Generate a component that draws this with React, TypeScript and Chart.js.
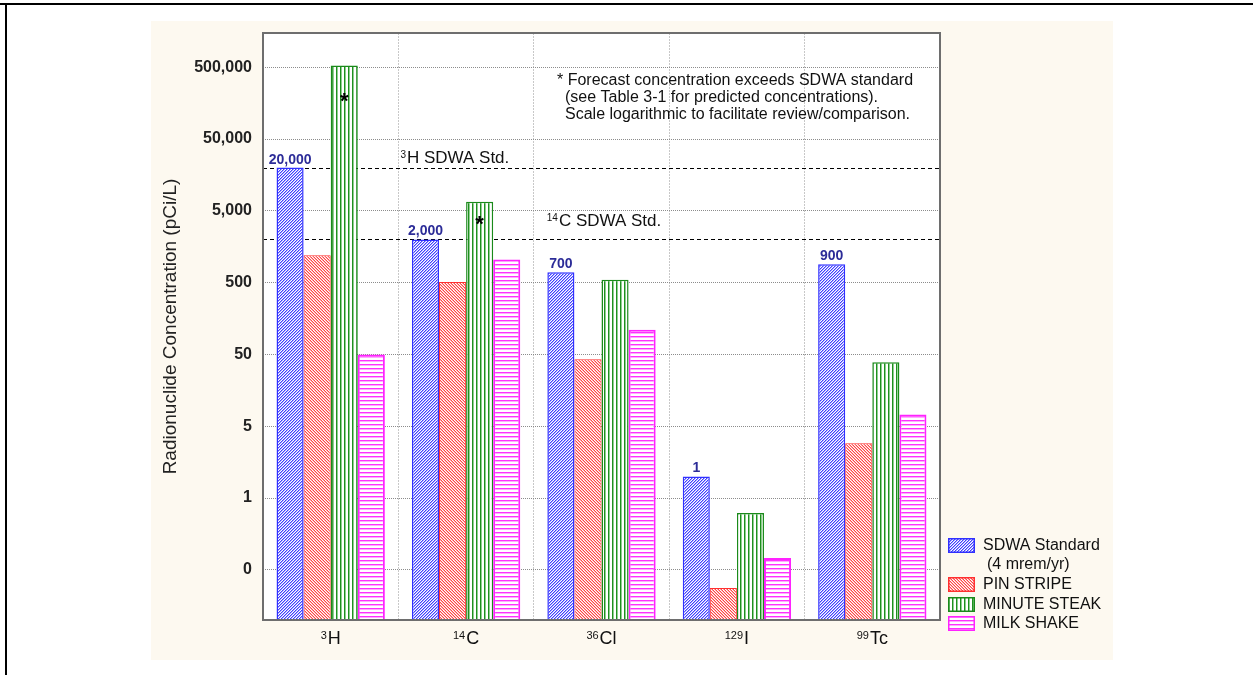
import React, { useEffect, useRef } from 'react';
import { Chart, registerables } from 'chart.js';

Chart.register(...registerables);

// ---------------- data ----------------
const categorySup = ['3', '14', '36', '129', '99'];
const categoryBase = ['H', 'C', 'Cl', 'I', 'Tc'];
const categories = categorySup.map((s, i) => s + categoryBase[i]);

const seriesNames = ['SDWA Standard', 'PIN STRIPE', 'MINUTE STEAK', 'MILK SHAKE'];
const sdwaStandard = [20000, 2000, 700, 1, 900];
const pinStripe = [1200, 510, 43, 0.028, 2.9];
const minuteSteak = [530000, 6700, 550, 0.31, 39];
const milkShake = [50, 1050, 110, 0.073, 7.3];
const sdwaLabels = ['20,000', '2,000', '700', '1', '900'];

const yTickValues = [0.05, 0.5, 5, 50, 500, 5000, 50000, 500000];
const yTickLabels = ['0', '1', '5', '50', '500', '5,000', '50,000', '500,000'];
const yMin = 0.01;
const yMax = 1500000;

const stdLineValues = [20000, 2000];
const stdLineSup = ['3', '14'];
const stdLineText = ['H SDWA Std.', 'C SDWA Std.'];

// asterisks on MINUTE STEAK bars for 3H and 14C
const asteriskValues = [185000, 3600];

const noteLines = [
  '* Forecast concentration exceeds SDWA standard',
  '(see Table 3-1 for predicted concentrations).',
  'Scale logarithmic to facilitate review/comparison.',
];

const FONT = '"Liberation Sans", Arial, sans-serif';

function makePattern(kind: string, color: string, soft: string): CanvasPattern {
  const size = kind === 'diagUp' || kind === 'diagDown' ? 3 : 4;
  const c = document.createElement('canvas');
  c.width = size;
  c.height = size;
  const g = c.getContext('2d')!;
  g.fillStyle = '#ffffff';
  g.fillRect(0, 0, size, size);
  for (let i = 0; i < size; i++) {
    if (kind === 'diagUp') {
      g.fillStyle = color;
      g.fillRect(i, size - 1 - i, 1, 1);
      g.fillStyle = soft;
      g.fillRect(i, (size - i) % size, 1, 1);
    } else if (kind === 'diagDown') {
      g.fillStyle = color;
      g.fillRect(i, i, 1, 1);
      g.fillStyle = soft;
      g.fillRect(i, (i + 1) % size, 1, 1);
    } else if (kind === 'vert') {
      g.fillStyle = color;
      g.fillRect(0, i, 1, 1);
      g.fillStyle = soft;
      g.fillRect(1, i, 1, 1);
    } else if (kind === 'horiz') {
      g.fillStyle = color;
      g.fillRect(i, 0, 1, 1);
      g.fillStyle = soft;
      g.fillRect(i, 1, 1, 1);
    }
  }
  return g.createPattern(c, 'repeat')!;
}

function drawSup(
  ctx: CanvasRenderingContext2D,
  x: number,
  baseline: number,
  sup: string,
  base: string,
  size: number,
  supSize: number,
  align: 'left' | 'center'
) {
  ctx.font = `${supSize}px ${FONT}`;
  const sw = ctx.measureText(sup).width;
  ctx.font = `${size}px ${FONT}`;
  const bw = ctx.measureText(base).width;
  const gap = 1;
  let sx = x;
  if (align === 'center') sx = x - (sw + gap + bw) / 2;
  ctx.textAlign = 'left';
  ctx.textBaseline = 'alphabetic';
  ctx.font = `${supSize}px ${FONT}`;
  ctx.fillText(sup, sx, baseline - size * 0.3);
  ctx.font = `${size}px ${FONT}`;
  ctx.fillText(base, sx + sw + gap, baseline);
}

export default function App() {
  const ref = useRef<HTMLCanvasElement>(null);

  useEffect(() => {
    const canvas = ref.current!;
    const fills = [
      makePattern('diagUp', '#4040ff', '#a8a8ff'),
      makePattern('diagDown', '#ff4545', '#ffaaaa'),
      makePattern('vert', '#1f8f1f', '#8fcf8f'),
      makePattern('horiz', '#ff30ff', '#ffaaff'),
    ];
    const borders = ['#3030ff', '#ff3030', '#1a8a1a', '#ff22ff'];
    const borderWidths = [1.5, 1, 1.5, 2];
    const seriesData = [sdwaStandard, pinStripe, minuteSteak, milkShake];

    const decor = {
      id: 'decor',
      beforeDraw(chart: any) {
        const { ctx, width, height, chartArea } = chart;
        ctx.save();
        ctx.fillStyle = '#ffffff';
        ctx.fillRect(0, 0, width, height);
        ctx.fillStyle = '#000000';
        ctx.fillRect(0, 3, width, 2);
        ctx.fillRect(5, 3, 2, height - 3);
        ctx.fillStyle = '#fdf9f0';
        ctx.fillRect(151, 21, 962, 639);
        ctx.fillStyle = '#ffffff';
        ctx.fillRect(chartArea.left, chartArea.top, chartArea.right - chartArea.left, chartArea.bottom - chartArea.top);
        ctx.restore();
      },
      beforeDatasetsDraw(chart: any) {
        const { ctx, chartArea } = chart;
        const y = chart.scales.y;
        ctx.save();
        ctx.strokeStyle = '#000000';
        ctx.lineWidth = 1;
        ctx.setLineDash([4, 3]);
        stdLineValues.forEach((v) => {
          const py = Math.round(y.getPixelForValue(v)) + 0.5;
          ctx.beginPath();
          ctx.moveTo(chartArea.left, py);
          ctx.lineTo(chartArea.right, py);
          ctx.stroke();
        });
        ctx.restore();
      },
      afterDatasetsDraw(chart: any) {
        const { ctx, chartArea } = chart;
        const y = chart.scales.y;
        const x = chart.scales.x;
        ctx.save();
        // plot border
        ctx.strokeStyle = '#6e6e6e';
        ctx.lineWidth = 2;
        ctx.strokeRect(chartArea.left, chartArea.top, chartArea.right - chartArea.left, chartArea.bottom - chartArea.top);

        // std line labels
        ctx.fillStyle = '#111111';
        const lx0 = x.getPixelForTick(0) + (x.getPixelForTick(1) - x.getPixelForTick(0)) / 2;
        const py0 = y.getPixelForValue(stdLineValues[0]);
        drawSup(ctx, lx0 + 2, py0 - 4.5, stdLineSup[0], stdLineText[0], 17, 10, 'left');
        const lx1 = x.getPixelForTick(1) + (x.getPixelForTick(2) - x.getPixelForTick(1)) / 2;
        const py1 = y.getPixelForValue(stdLineValues[1]);
        drawSup(ctx, lx1 + 13, py1 - 13, stdLineSup[1], stdLineText[1], 17, 10, 'left');

        // note text
        ctx.font = `16px ${FONT}`;
        ctx.textAlign = 'left';
        ctx.textBaseline = 'alphabetic';
        ctx.fillStyle = '#111111';
        ctx.fillText(noteLines[0], 557, 85);
        ctx.fillText(noteLines[1], 565, 102);
        ctx.fillText(noteLines[2], 565, 119);

        // value labels above SDWA bars
        const meta0 = chart.getDatasetMeta(0);
        ctx.font = `bold 14px ${FONT}`;
        ctx.fillStyle = '#2c2c98';
        ctx.textAlign = 'center';
        meta0.data.forEach((bar: any, i: number) => {
          ctx.fillText(sdwaLabels[i], bar.x, bar.y - 4);
        });

        // asterisks
        const meta2 = chart.getDatasetMeta(2);
        ctx.font = `bold 22px ${FONT}`;
        ctx.fillStyle = '#000000';
        ctx.textBaseline = 'middle';
        asteriskValues.forEach((v, i) => {
          ctx.fillText('*', meta2.data[i].x, y.getPixelForValue(v) + 4);
        });

        // x labels with superscripts
        ctx.fillStyle = '#111111';
        categories.forEach((_, i) => {
          drawSup(ctx, x.getPixelForTick(i), chartArea.bottom + 24, categorySup[i], categoryBase[i], 18, 11, 'center');
        });

        // legend
        const lx = chartArea.right + 8;
        const rows = [
          { top: 538, text: [seriesNames[0], '(4 mrem/yr)'] },
          { top: 577, text: [seriesNames[1]] },
          { top: 597, text: [seriesNames[2]] },
          { top: 616, text: [seriesNames[3]] },
        ];
        rows.forEach((r, i) => {
          ctx.fillStyle = fills[i];
          ctx.fillRect(lx, r.top, 27, 15);
          ctx.strokeStyle = borders[i];
          ctx.lineWidth = 1.5;
          ctx.setLineDash([]);
          ctx.strokeRect(lx + 0.75, r.top + 0.75, 25.5, 13.5);
          ctx.fillStyle = '#111111';
          ctx.font = `16px ${FONT}`;
          ctx.textAlign = 'left';
          ctx.textBaseline = 'middle';
          ctx.fillText(r.text[0], lx + 35, r.top + 8);
          if (r.text[1]) ctx.fillText(r.text[1], lx + 39, r.top + 27);
        });
        ctx.restore();
      },
    };

    const chart = new Chart(canvas, {
      type: 'bar',
      data: {
        labels: categories,
        datasets: seriesData.map((d, i) => ({
          label: seriesNames[i],
          data: d,
          backgroundColor: fills[i],
          borderColor: borders[i],
          borderWidth: borderWidths[i],
          borderSkipped: 'start',
          categoryPercentage: 0.8,
          barPercentage: 1.0,
        })),
      },
      options: {
        responsive: false,
        animation: false,
        devicePixelRatio: 1,
        layout: { padding: { left: 155, top: 33, right: 313, bottom: 0 } },
        plugins: { legend: { display: false }, tooltip: { enabled: false } },
        scales: {
          x: {
            type: 'category',
            offset: true,
            grid: { offset: true, color: '#c8c8c8', lineWidth: 1, drawTicks: false },
            border: { display: false, dash: [2, 1] },
            ticks: { display: false },
            afterFit: (s: any) => {
              s.height = 55;
            },
          },
          y: {
            type: 'logarithmic',
            min: yMin,
            max: yMax,
            grid: { color: '#8c8c8c', lineWidth: 1, drawTicks: false },
            border: { display: false, dash: [1, 1] },
            ticks: {
              padding: 11,
              autoSkip: false,
              color: '#222222',
              font: { family: FONT, size: 16, weight: 'bold' },
              callback: (v: any) => {
                const idx = yTickValues.findIndex((t) => Math.abs(t - Number(v)) / t < 1e-6);
                return idx >= 0 ? yTickLabels[idx] : '';
              },
            },
            afterBuildTicks: (s: any) => {
              s.ticks = yTickValues.map((v) => ({ value: v }));
            },
            afterFit: (s: any) => {
              s.width = 108;
            },
            title: {
              display: true,
              text: 'Radionuclide Concentration (pCi/L)',
              color: '#222222',
              font: { family: FONT, size: 19 },
            },
          },
        },
      } as any,
      plugins: [decor],
    });
    return () => chart.destroy();
  }, []);

  return (
    <div style={{ position: 'absolute', left: 0, top: 0, width: 1253, height: 675 }}>
      <canvas ref={ref} width={1253} height={675} style={{ display: 'block', width: 1253, height: 675 }} />
    </div>
  );
}
